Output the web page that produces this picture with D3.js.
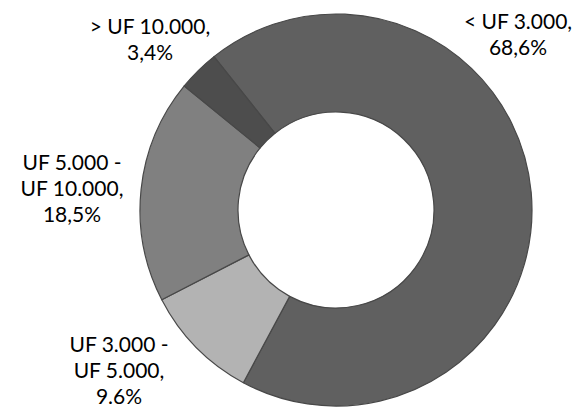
<!DOCTYPE html>
<html>
<head>
<meta charset="utf-8">
<script src="https://cdn.jsdelivr.net/npm/d3@7"></script>
<style>
  html, body { margin: 0; padding: 0; background: #fff; }
  svg { display: block; }
</style>
</head>
<body>
<svg id="chart"></svg>
<script>
// data, clockwise from the first slice
const categories = ["< UF 3.000", "UF 3.000 - UF 5.000", "UF 5.000 - UF 10.000", "> UF 10.000"];
const values = [68.6, 9.6, 18.5, 3.4];
const labelLines = [
  ["< UF 3.000,", "68,6%"],
  ["UF 3.000 -", "UF 5.000,", "9.6%"],
  ["UF 5.000 -", "UF 10.000,", "18,5%"],
  ["> UF 10.000,", "3,4%"]
];
const colors = ["#606060", "#b3b3b3", "#808080", "#4d4d4d"];

// layout
const width = 576;
const height = 407;
const cx = 336;
const cy = 210;
const outerR = 196;
const innerR = 98;
const firstAngle = -38.5 * Math.PI / 180;
const lineHeight = 26;
// label anchors: centre x and first baseline, placed where the source chart put them
const labelPos = [[518, 29], [119, 352], [72, 170], [150, 34]];

const svg = d3.select("#chart").attr("width", width).attr("height", height);

const pie = d3.pie().sort(null).value((d) => d)
  .startAngle(firstAngle).endAngle(firstAngle + 2 * Math.PI);
const arc = d3.arc().innerRadius(innerR).outerRadius(outerR);

const g = svg.append("g").attr("transform", `translate(${cx},${cy})`);

g.selectAll("path")
  .data(pie(values))
  .join("path")
  .attr("d", arc)
  .attr("fill", (_, i) => colors[i])
  .attr("stroke", "#484848")
  .attr("stroke-width", 1.2)
  .attr("stroke-linejoin", "round");

const labels = svg.append("g")
  .attr("font-family", "Lato, 'Open Sans', sans-serif")
  .attr("font-size", 21)
  .attr("fill", "#000")
  .attr("text-anchor", "middle");

labels.selectAll("text")
  .data(categories)
  .join("text")
  .attr("x", (_, i) => labelPos[i][0])
  .attr("y", (_, i) => labelPos[i][1])
  .each(function (_, i) {
    d3.select(this).selectAll("tspan")
      .data(labelLines[i])
      .join("tspan")
      .attr("x", labelPos[i][0])
      .attr("dy", (_, j) => (j === 0 ? 0 : lineHeight))
      .text((t) => t);
  });
</script>
</body>
</html>
